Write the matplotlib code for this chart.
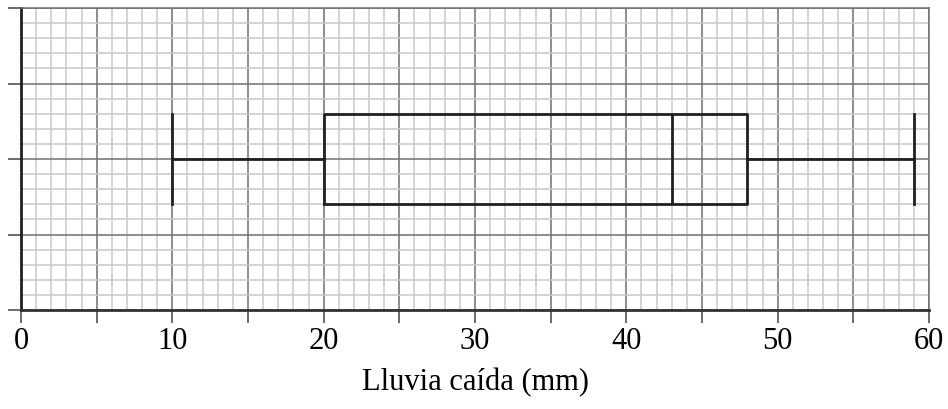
import matplotlib.pyplot as plt
from matplotlib.ticker import MultipleLocator

plt.rcParams['font.family'] = ['Liberation Serif', 'DejaVu Serif']

# five-number summary (mm)
whisker_lo = 10
q1 = 20
median = 43
q3 = 48
whisker_hi = 59
xlabel = "Lluvia caída (mm)"
xtick_vals = [0, 10, 20, 30, 40, 50, 60]

fig = plt.figure(figsize=(9.48, 4.09), dpi=100)
ax = fig.add_axes([21 / 948, 1 - 310 / 409, 908 / 948, 302 / 409])

stats = [{'med': median, 'q1': q1, 'q3': q3,
          'whislo': whisker_lo, 'whishi': whisker_hi, 'fliers': []}]
lw = 2.0
ax.bxp(stats, positions=[2], widths=1.2, capwidths=1.2,
       orientation='horizontal', showfliers=False,
       boxprops=dict(color='#231f20', linewidth=lw),
       whiskerprops=dict(color='#231f20', linewidth=lw),
       capprops=dict(color='#231f20', linewidth=lw),
       medianprops=dict(color='#231f20', linewidth=lw),
       zorder=5)

ax.set_xlim(0, 60)
ax.set_ylim(0, 4)

ax.xaxis.set_major_locator(MultipleLocator(5))
ax.xaxis.set_minor_locator(MultipleLocator(1))
ax.yaxis.set_major_locator(MultipleLocator(1))
ax.yaxis.set_minor_locator(MultipleLocator(0.2))

ax.set_xticklabels([str(int(v)) if v in xtick_vals else '' for v in ax.get_xticks()])
ax.set_yticklabels([])

ax.grid(which='minor', color='#c8c8c8', linewidth=1.1, zorder=0)
ax.grid(which='major', color='#6f6f6f', linewidth=1.1, zorder=1)
ax.set_axisbelow(True)

ax.tick_params(which='minor', length=0)
ax.tick_params(which='major', length=9.5, width=1.1, color='#444444',
               direction='out', labelsize=22, pad=3)

for s in ['top', 'right']:
    ax.spines[s].set_color('#6f6f6f')
    ax.spines[s].set_linewidth(1.1)
ax.spines['left'].set_color('#231f20')
ax.spines['left'].set_linewidth(2)
ax.spines['bottom'].set_color('#333333')
ax.spines['bottom'].set_linewidth(2)

ax.set_xlabel(xlabel, fontsize=22, labelpad=8)

fig.savefig('out.png', dpi=100)
